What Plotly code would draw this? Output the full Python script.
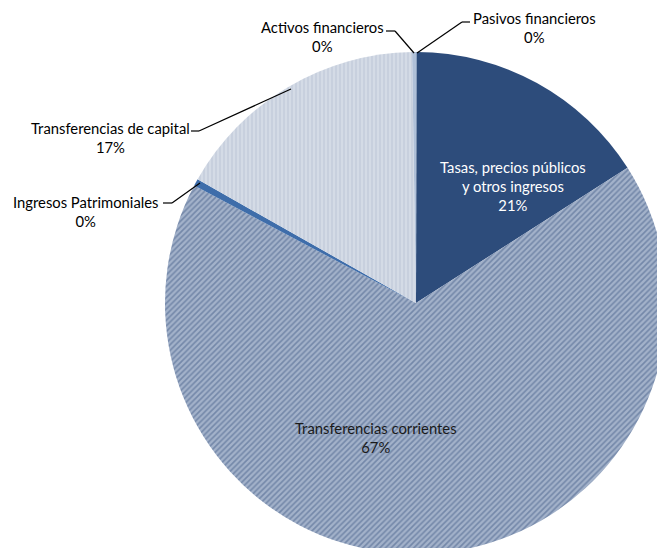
import plotly.graph_objects as go

# ---- data ----
labels = ["Pasivos financieros", "Tasas, precios públicos<br>y otros ingresos",
          "Transferencias corrientes", "Ingresos Patrimoniales",
          "Transferencias de capital", "Activos financieros"]
values = [0.05, 15.9, 66.8, 0.45, 16.55, 0.25]
pct_text = ["0%", "21%", "67%", "0%", "17%", "0%"]

colors = ["#8FA6C8", "#2D4C7B", "#A3B2CA", "#3E6DAA", "#C8D0DE", "#AFC0D8"]
pat_shapes = ["", "", "/", "", "|", ""]
pat_fg = ["#8FA6C8", "#2D4C7B", "#7488A9", "#3E6DAA", "#D8DEE8", "#AFC0D8"]

# figure slightly larger than the 657x548 window; the page clips the overflow
W, H = 680, 560
FONT = "Lato"
FS = 14.8

def px(x):
    return x / W

def py(y):
    return 1 - y / H

fig = go.Figure()
fig.add_trace(go.Pie(
    labels=labels, values=values, sort=False, direction="clockwise",
    rotation=0, textinfo="none", hoverinfo="label+percent",
    marker=dict(colors=colors, line=dict(width=0),
                pattern=dict(shape=pat_shapes, fgcolor=pat_fg, bgcolor=colors,
                             size=4, solidity=0.4, fillmode="replace")),
    domain=dict(x=[px(165), px(667)], y=[py(554), py(52)]),
    showlegend=False,
))

# label positions (pixel centres in the reference) for each slice label
label_pos = {
    0: (534, 27, "black"),
    1: (513, 186, "white"),
    2: (376, 437, "#1a1a1a"),
    3: (85, 211, "black"),
    4: (110, 137, "black"),
    5: (322, 37, "black"),
}
for i, (x, y, c) in label_pos.items():
    fig.add_annotation(x=px(x), y=py(y), xref="paper", yref="paper",
                       text=labels[i] + "<br>" + pct_text[i], showarrow=False,
                       font=dict(family=FONT, size=FS, color=c),
                       align="center", xanchor="center", yanchor="middle")

# leader lines
leaders = [
    [(470, 22), (462, 22), (417, 53)],
    [(386, 31), (395, 31), (414, 53)],
    [(191, 131), (199, 131), (291, 89)],
    [(163, 203), (172, 203), (200, 183)],
]
for pts in leaders:
    for (x0, y0), (x1, y1) in zip(pts[:-1], pts[1:]):
        fig.add_shape(type="line", xref="paper", yref="paper",
                      x0=px(x0), y0=py(y0), x1=px(x1), y1=py(y1),
                      line=dict(color="black", width=1.2))

fig.update_layout(width=W, height=H, margin=dict(l=0, r=0, t=0, b=0),
                  paper_bgcolor="white", plot_bgcolor="white",
                  font=dict(family=FONT))
fig.write_html("out.html", config={"displayModeBar": False}, post_script=(
    "document.body.style.margin='0';"
    "document.body.style.overflow='hidden';"
    "document.documentElement.style.overflow='hidden';"))
